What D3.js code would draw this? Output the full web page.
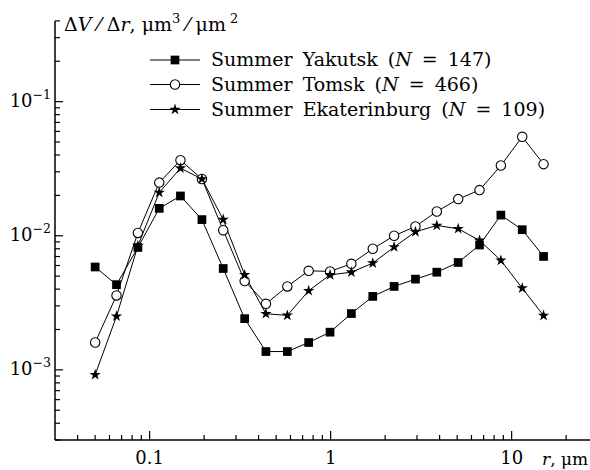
<!DOCTYPE html>
<html><head><meta charset="utf-8">
<script src="https://cdn.jsdelivr.net/npm/d3@7"></script>
<style>
body{margin:0;background:#fff;}
text{font-family:"DejaVu Serif",serif;fill:#000;}
</style></head>
<body><svg id="c" width="590" height="470"></svg>
<script>
const radii = [0.05,0.0656,0.0861,0.113,0.148,0.1945,0.255,0.335,0.439,0.5765,0.756,0.9925,1.302,1.709,2.242,2.942,3.86,5.065,6.646,8.72,11.44,15.01];
const yakutsk = [0.00585,0.00432,0.00818,0.0160,0.0198,0.0132,0.0057,0.00241,0.00137,0.00137,0.0016,0.00191,0.00263,0.00353,0.00419,0.00475,0.00535,0.00632,0.00853,0.01426,0.0111,0.00701];
const tomsk = [0.0016,0.00359,0.0105,0.0249,0.0366,0.0265,0.0110,0.0046,0.00311,0.00419,0.00548,0.00542,0.00618,0.0080,0.0100,0.01173,0.01517,0.01876,0.0219,0.0334,0.0547,0.0342];
const ekaterinburg = [0.00092,0.00251,0.00842,0.0210,0.0319,0.0265,0.0132,0.00511,0.00262,0.00255,0.00389,0.00511,0.00535,0.00625,0.00824,0.0107,0.01193,0.01128,0.00923,0.00655,0.00407,0.00254];
const seriesNames = ["Summer Yakutsk", "Summer Tomsk", "Summer Ekaterinburg"];
const seriesN = [147, 466, 109];
const xTickLabels = ["0.1","1","10"];
const yTickExps = ["−1","−2","−3"];

const svg = d3.select("#c");
const x = d3.scaleLog().domain([0.03, 30]).range([55, 598]);
const y = d3.scaleLog().domain([0.0003, 0.4]).range([440, 20.9]);

// axes lines
svg.append("line").attr("x1",55).attr("x2",590).attr("y1",440).attr("y2",440).attr("stroke","#000").attr("stroke-width",1.5);
svg.append("line").attr("x1",55).attr("x2",55).attr("y1",20.9).attr("y2",440).attr("stroke","#000").attr("stroke-width",1.5);

// x ticks
const xMinor = [];
[0.01,0.1,1,10].forEach(d=>{for(let k=1;k<10;k++){const v=d*k; if(v>=0.04 && v<=20) xMinor.push(v);}});
svg.selectAll(".xt").data(xMinor).enter().append("line")
  .attr("x1",d=>x(d)).attr("x2",d=>x(d))
  .attr("y1",440).attr("y2",d=>[0.1,1,10].some(m=>Math.abs(d-m)<1e-9)?431:435)
  .attr("stroke","#000").attr("stroke-width",1.2);
svg.selectAll(".xl").data(xTickLabels).enter().append("text")
  .attr("x",d=>x(+d)).attr("y",464).attr("text-anchor","middle").attr("font-size",18).text(d=>d);

// y ticks
const yMinor=[];
[0.0001,0.001,0.01,0.1].forEach(d=>{for(let k=1;k<10;k++){const v=d*k; if(v>=0.0003-1e-12 && v<=0.4+1e-9) yMinor.push(v);}});
svg.selectAll(".yt").data(yMinor).enter().append("line")
  .attr("y1",d=>y(d)).attr("y2",d=>y(d))
  .attr("x1",55).attr("x2",d=>[0.1,0.01,0.001].some(m=>Math.abs(d/m-1)<1e-9)?63:60)
  .attr("stroke","#000").attr("stroke-width",1.2);
const yl = svg.selectAll(".yl").data(yTickExps).enter().append("text")
  .attr("x",51).attr("y",(d,i)=>y(Math.pow(10,-(i+1)))+5).attr("text-anchor","end").attr("font-size",18);
yl.append("tspan").text("10");
yl.append("tspan").attr("dy",-8).attr("font-size",12.5).text(d=>d);

// y-axis label
const ylab = svg.append("text").attr("x",64).attr("y",31).attr("font-size",19);
ylab.append("tspan").text("Δ");
ylab.append("tspan").attr("font-style","italic").text("V");
ylab.append("tspan").text(" ⁄ Δ");
ylab.append("tspan").attr("font-style","italic").text("r");
ylab.append("tspan").text(", μm");
ylab.append("tspan").attr("dy",-8).attr("font-size",13).text("3");
ylab.append("tspan").attr("dy",8).text(" ⁄ μm");
ylab.append("tspan").attr("dy",-8).attr("font-size",13).text(" 2");

// x-axis label
const xlab = svg.append("text").attr("x",542).attr("y",465).attr("font-size",17);
xlab.append("tspan").attr("font-style","italic").text("r");
xlab.append("tspan").text(", μm");

// series
const data = [yakutsk, tomsk, ekaterinburg];
const line = d3.line().x((d,i)=>x(radii[i])).y(d=>y(d));
data.forEach(s=>{
  svg.append("path").attr("d",line(s)).attr("fill","none").attr("stroke","#000").attr("stroke-width",1);
});
function marker(g, type){
  if(type===0) g.append("path").attr("d",d3.symbol().type(d3.symbolSquare).size(76)()).attr("fill","#000");
  else if(type===1) g.append("circle").attr("r",4.7).attr("fill","#fff").attr("stroke","#000").attr("stroke-width",1.1);
  else g.append("path").attr("d",d3.symbol().type(d3.symbolStar).size(40)()).attr("fill","#000");
}
data.forEach((s,si)=>{
  s.forEach((v,i)=>{
    const g = svg.append("g").attr("transform",`translate(${x(radii[i])},${y(v)})`);
    marker(g, si);
  });
});

// legend
const legY=[60,84.5,109.5];
seriesNames.forEach((nm,i)=>{
  svg.append("line").attr("x1",150).attr("x2",200).attr("y1",legY[i]).attr("y2",legY[i]).attr("stroke","#000").attr("stroke-width",1);
  const g = svg.append("g").attr("transform",`translate(175,${legY[i]})`);
  marker(g,i);
  const t = svg.append("text").attr("x",211).attr("y",legY[i]+6).attr("font-size",19).style("word-spacing","4px");
  t.append("tspan").text(nm+" (");
  t.append("tspan").attr("font-style","italic").text("N");
  t.append("tspan").text(" = "+seriesN[i]+")");
});
</script></body></html>
